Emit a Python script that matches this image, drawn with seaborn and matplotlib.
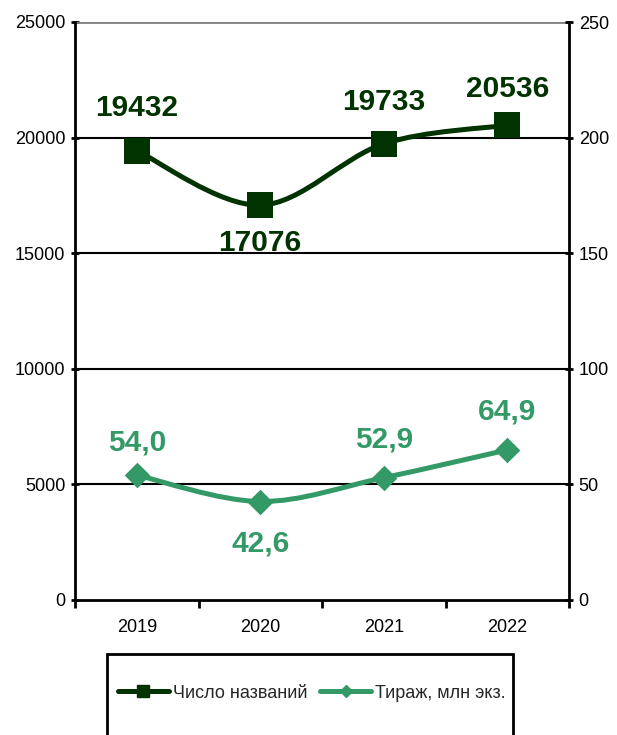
import numpy as np
import pandas as pd
import matplotlib
matplotlib.use("Agg")
import matplotlib.pyplot as plt
import seaborn as sns
from matplotlib.path import Path
from matplotlib.patches import PathPatch, Rectangle
from matplotlib.lines import Line2D

years = ["2019", "2020", "2021", "2022"]
titles = [19432, 17076, 19733, 20536]
circulation = [54.0, 42.6, 52.9, 64.9]
title_labels = ["19432", "17076", "19733", "20536"]
circ_labels = ["54,0", "42,6", "52,9", "64,9"]
series_names = ["Число названий", "Тираж, млн экз."]
left_ticks = [0, 5000, 10000, 15000, 20000, 25000]
right_ticks = [0, 50, 100, 150, 200, 250]

DARK = "#003300"
LIGHT = "#339966"

sns.set_theme(style="white")
plt.rcParams['font.family'] = ['Liberation Sans', 'DejaVu Sans']

df = pd.DataFrame({"year": years, "titles": titles, "circ": circulation})

fig = plt.figure(figsize=(6.17, 7.35), dpi=100)
ax = fig.add_axes([75/617, 1-600/735, (569-75)/617, (600-22)/735])
ax2 = ax.twinx()


def smooth_path(xs, ys):
    pts = np.column_stack([xs, ys]).astype(float)
    n = len(pts)
    verts = [pts[0]]
    codes = [Path.MOVETO]
    for i in range(n - 1):
        p0 = pts[max(i - 1, 0)]
        p1 = pts[i]
        p2 = pts[i + 1]
        p3 = pts[min(i + 2, n - 1)]
        c1 = p1 + (p2 - p0) / 6.0
        c2 = p2 - (p3 - p1) / 6.0
        verts += [c1, c2, p2]
        codes += [Path.CURVE4] * 3
    return Path(verts, codes)


xpos = np.arange(len(years))

# grid lines
for v in left_ticks[1:-1]:
    ax.axhline(v, color="black", lw=1.5, zorder=1)
ax.axhline(25000, color="#808080", lw=2, zorder=1)

# dark series
ax.add_patch(PathPatch(smooth_path(xpos, titles), fill=False, edgecolor=DARK,
                       lw=3.6, zorder=3, capstyle="round", joinstyle="round"))
sns.scatterplot(data=df, x="year", y="titles", ax=ax, marker="s", s=330,
                color=DARK, edgecolor=DARK, linewidth=0, zorder=4, legend=False)

# light series
ax2.add_patch(PathPatch(smooth_path(xpos, circulation), fill=False, edgecolor=LIGHT,
                        lw=3.6, zorder=3, capstyle="round", joinstyle="round"))
sns.scatterplot(data=df, x="year", y="circ", ax=ax2, marker="D", s=170,
                color=LIGHT, edgecolor=LIGHT, linewidth=0, zorder=4, legend=False)

# labels
dark_off = [43, -38, 42, 36]
for i, (v, t) in enumerate(zip(titles, title_labels)):
    ax.annotate(t, (i, v), xytext=(0, dark_off[i]), textcoords="offset pixels",
                ha="center", va="center", fontsize=21.5, fontweight="bold", color=DARK)
light_off = [33, -42, 38, 38]
for i, (v, t) in enumerate(zip(circulation, circ_labels)):
    ax2.annotate(t, (i, v), xytext=(0, light_off[i]), textcoords="offset pixels",
                 ha="center", va="center", fontsize=21.5, fontweight="bold", color=LIGHT)

for a in (ax, ax2):
    a.set_xlim(-0.5, 3.5)
    a.set_xlabel("")
    a.set_ylabel("")
    for s in a.spines.values():
        s.set_visible(False)

ax.set_ylim(0, 25000)
ax2.set_ylim(0, 250)
ax.set_yticks(left_ticks)
ax.set_yticklabels([str(t) for t in left_ticks])
ax2.set_yticks(right_ticks)
ax2.set_yticklabels([str(t) for t in right_ticks])

ax.spines["left"].set_visible(True)
ax.spines["bottom"].set_visible(True)
ax2.spines["right"].set_visible(True)
for s in (ax.spines["left"], ax.spines["bottom"], ax2.spines["right"]):
    s.set_color("black")
    s.set_linewidth(2)

ax.set_xticks(xpos)
ax.set_xticklabels(years)
ax.set_xticks(np.arange(-0.5, 4.0, 1.0), minor=True)
ax.tick_params(axis="x", which="major", length=0, pad=14, labelsize=13, colors="black")
ax.tick_params(axis="x", which="minor", length=6, width=2, direction="out",
               color="black", bottom=True)
ax.tick_params(axis="y", which="major", length=6, width=2, direction="inout",
               left=True, labelsize=13, pad=4, colors="black")
ax2.tick_params(axis="y", which="major", length=6, width=2, direction="inout",
                right=True, labelsize=13, pad=4, colors="black")
ax2.tick_params(axis="x", which="both", length=0, labelbottom=False)

# legend
handles = [
    Line2D([0], [0], color=DARK, lw=3.6, marker="s", markersize=8, markerfacecolor=DARK,
           markeredgecolor=DARK),
    Line2D([0], [0], color=LIGHT, lw=3.6, marker="D", markersize=6, markerfacecolor=LIGHT,
           markeredgecolor=LIGHT),
]
fig.add_artist(Rectangle((107/617, -0.05), (513-107)/617, 0.05 + 1-654/735,
                         transform=fig.transFigure, fill=False, edgecolor="black",
                         lw=2, clip_on=False))
fig.legend(handles, series_names, loc="center", bbox_to_anchor=(312/617, 1-693/735),
           ncol=2, frameon=False, fontsize=13, handlelength=2.8, handletextpad=0.25,
           columnspacing=0.7, borderpad=0, borderaxespad=0)

fig.savefig("out.png", dpi=100)
